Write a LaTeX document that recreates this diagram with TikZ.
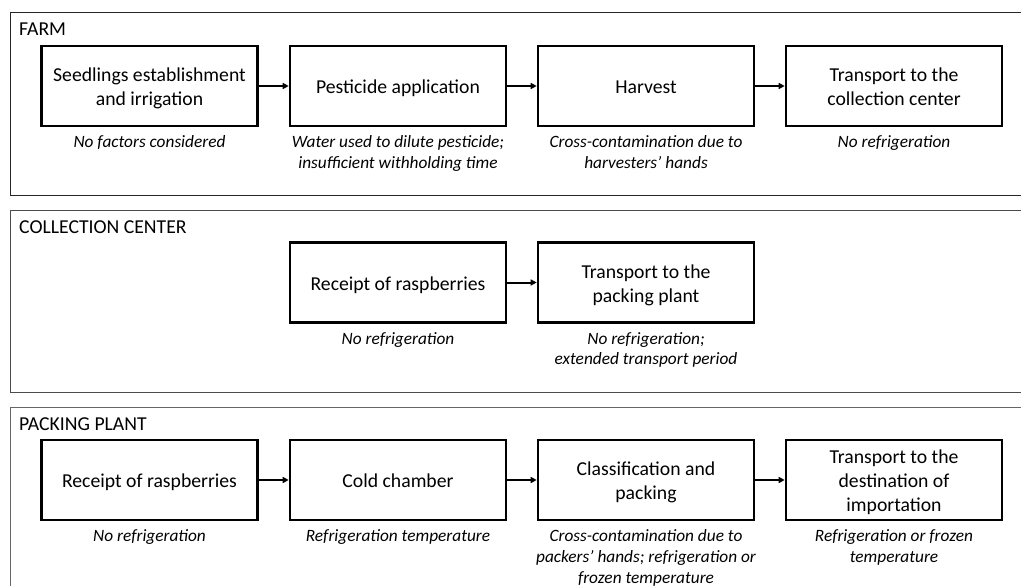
\documentclass[tikz,border=0pt]{standalone}
\usepackage{fontspec}
\setmainfont{Carlito}
\usetikzlibrary{arrows.meta}
\newcommand{\bst}{\rule[-4.5pt]{0pt}{24pt}}
\newcommand{\cst}{\rule[-4pt]{0pt}{18pt}}
\begin{document}
\begin{tikzpicture}[x=1pt,y=-1pt,
 stepbox/.style={draw,line width=2.6pt,minimum width=216pt,minimum height=80pt,align=center,inner sep=2pt,
   font=\fontsize{19.7}{24}\selectfont},
 capnote/.style={anchor=north,align=center,inner sep=0pt,font=\fontsize{17.3}{20.8}\selectfont\itshape},
 sectitle/.style={anchor=base west,inner sep=0pt,font=\fontsize{19.7}{24}\selectfont},
 sectframe/.style={line width=1.2pt},
 flowarrow/.style={line width=2pt,-{Triangle[length=6pt,width=6pt]}}]
\useasboundingbox (0,0) rectangle (1021,586);
\clip (0,0) rectangle (1021,586);
% frames
\draw[sectframe,black!85] (10.6,12.6) rectangle (1040,195.4);
\draw[sectframe,black!70] (10.6,210.6) rectangle (1040,392.4);
\draw[sectframe,black!60] (10.6,407.6) rectangle (1040,600);
% titles
\node[sectitle] (t1) at (19,36) {FARM};
\node[sectitle] (t2) at (19,233) {COLLECTION CENTER};
\node[sectitle] (t3) at (19,430) {PACKING PLANT};
% row 1
\node[stepbox] (a1) at (149.5,86) {\bst Seedlings establishment\\\bst and irrigation};
\node[stepbox] (a2) at (398,86) {\bst Pesticide application};
\node[stepbox] (a3) at (646,86) {\bst Harvest};
\node[stepbox] (a4) at (894,86) {\bst Transport to the\\\bst collection center};
\draw[flowarrow] (a1) -- (a2);
\draw[flowarrow] (a2) -- (a3);
\draw[flowarrow] (a3) -- (a4);
\node[capnote] (ca1) at ([yshift=-6pt]a1.south) {\cst No factors considered};
\node[capnote] (ca2) at ([yshift=-6pt]a2.south) {\cst Water used to dilute pesticide;\\\cst insufficient withholding time};
\node[capnote] (ca3) at ([yshift=-6pt]a3.south) {\cst Cross-contamination due to\\\cst harvesters’ hands};
\node[capnote] (ca4) at ([yshift=-6pt]a4.south) {\cst No refrigeration};
% row 2
\node[stepbox] (b1) at (398,282.5) {\bst Receipt of raspberries};
\node[stepbox] (b2) at (646,282.5) {\bst Transport to the\\\bst packing plant};
\draw[flowarrow] (b1) -- (b2);
\node[capnote] (cb1) at ([yshift=-6pt]b1.south) {\cst No refrigeration};
\node[capnote] (cb2) at ([yshift=-6pt]b2.south) {\cst No refrigeration;\\\cst extended transport period};
% row 3
\node[stepbox] (d1) at (149.5,480) {\bst Receipt of raspberries};
\node[stepbox] (d2) at (398,480) {\bst Cold chamber};
\node[stepbox] (d3) at (646,480) {\bst Classification and\\\bst packing};
\node[stepbox] (d4) at (894,480) {\bst Transport to the\\\bst destination of\\\bst importation};
\draw[flowarrow] (d1) -- (d2);
\draw[flowarrow] (d2) -- (d3);
\draw[flowarrow] (d3) -- (d4);
\node[capnote] (cd1) at ([yshift=-6pt]d1.south) {\cst No refrigeration};
\node[capnote] (cd2) at ([yshift=-6pt]d2.south) {\cst Refrigeration temperature};
\node[capnote] (cd3) at ([yshift=-6pt]d3.south) {\cst Cross-contamination due to\\\cst packers’ hands; refrigeration or\\\cst frozen temperature};
\node[capnote] (cd4) at ([yshift=-6pt]d4.south) {\cst Refrigeration or frozen\\\cst temperature};
\end{tikzpicture}
\end{document}
